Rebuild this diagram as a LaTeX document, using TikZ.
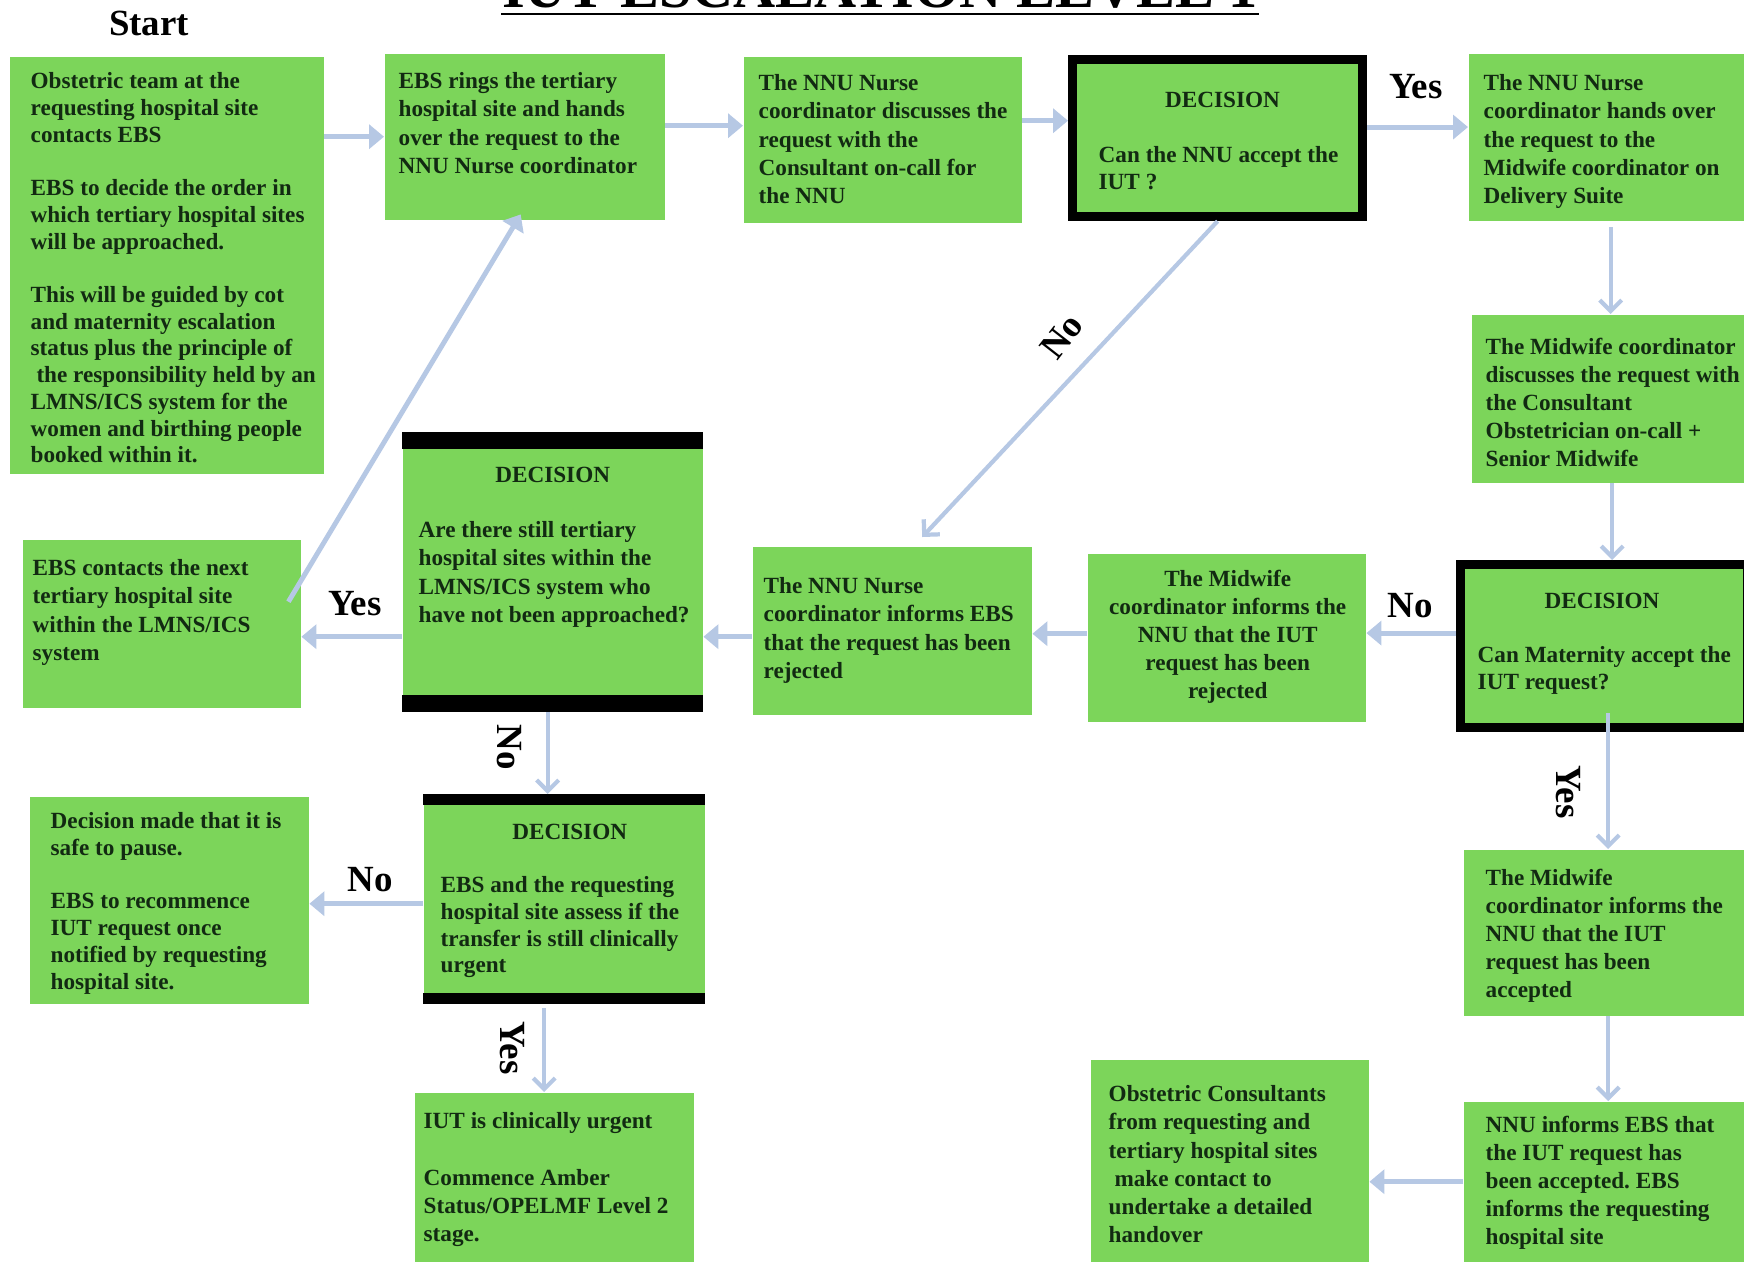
\documentclass[tikz,border=0pt]{standalone}
\usepackage{fontspec}
\setmainfont{Liberation Serif}
\usetikzlibrary{arrows.meta}
\definecolor{boxgreen}{RGB}{124,213,90}
\definecolor{arrowblue}{RGB}{182,200,228}
\definecolor{textdark}{RGB}{18,42,18}
\newcommand{\boxfont}{\fontsize{6.6}{8}\selectfont\bfseries}
\newcommand{\tightfont}{\fontsize{6.6}{7.6}\selectfont\bfseries}
\frenchspacing
\tikzset{
  stage/.style={fill=boxgreen, anchor=north west, inner sep=0},
  frame/.style={stage, draw=black, line width=2.6pt},
  txt/.style={anchor=north west, inner sep=0, align=left, text=textdark, font=\boxfont},
  head/.style={anchor=base, inner sep=0, text=textdark, font=\boxfont},
  lbl/.style={inner sep=0, font=\fontsize{10.5}{12}\selectfont\bfseries},
  flow/.style={draw=arrowblue, line width=1.4pt, -{Triangle[width=0.24cm,length=0.15cm]}},
  drop/.style={draw=arrowblue, line width=1.2pt, -{Straight Barb[width=0.22cm,length=0.11cm]}},
}
\begin{document}
\begin{tikzpicture}
  \useasboundingbox (0,0) rectangle (17.44,-12.61);
  % title
  \node[inner sep=0, anchor=base, font=\fontsize{16.6}{20}\selectfont\bfseries] (title) at (8.80,-0.07) {IUT ESCALATION LEVEL 1};
  \draw[line width=0.6pt] ([yshift=-0.07cm]title.base west) -- ([yshift=-0.07cm]title.base east);
  % boxes
  \node[stage, minimum width=3.14cm, minimum height=4.17cm] (start) at (0.09,-0.56) {};
  \node[stage, minimum width=2.80cm, minimum height=1.66cm] (ebs) at (3.84,-0.53) {};
  \node[stage, minimum width=2.78cm, minimum height=1.66cm] (nnu) at (7.43,-0.56) {};
  \node[frame, minimum width=2.90cm, minimum height=1.57cm] (dec1) at (10.68,-0.55) {};
  \node[stage, minimum width=2.84cm, minimum height=1.67cm] (mw) at (14.68,-0.53) {};
  \node[stage, minimum width=2.81cm, minimum height=1.68cm] (mwd) at (14.71,-3.14) {};
  \node[frame, minimum width=2.87cm, minimum height=1.63cm] (dec2) at (14.56,-5.60) {};
  \node[stage, minimum width=2.78cm, minimum height=1.68cm] (mwr) at (10.87,-5.53) {};
  \node[stage, minimum width=2.79cm, minimum height=1.68cm] (nnur) at (7.52,-5.46) {};
  \node[stage, minimum width=3.00cm, minimum height=2.79cm] (dec3) at (4.02,-4.32) {};
  \node[stage, minimum width=2.78cm, minimum height=1.68cm] (next) at (0.22,-5.39) {};
  \node[stage, minimum width=2.81cm, minimum height=2.09cm] (dec4) at (4.23,-7.94) {};
  \node[stage, minimum width=2.79cm, minimum height=2.07cm] (pause) at (0.29,-7.96) {};
  \node[stage, minimum width=2.79cm, minimum height=1.78cm] (urgent) at (4.14,-10.92) {};
  \node[stage, minimum width=2.89cm, minimum height=1.66cm] (mwa) at (14.63,-8.49) {};
  \node[stage, minimum width=2.89cm, minimum height=1.68cm] (ebsok) at (14.63,-11.01) {};
  \node[stage, minimum width=2.78cm, minimum height=2.10cm] (handover) at (10.90,-10.59) {};
  % black bars
  \fill (dec3.north west) rectangle ([yshift=-0.17cm]dec3.north east);
  \fill (dec3.south west) rectangle ([yshift=0.17cm]dec3.south east);
  \fill (dec4.north west) rectangle ([yshift=-0.11cm]dec4.north east);
  \fill (dec4.south west) rectangle ([yshift=0.11cm]dec4.south east);
  % texts
  \node[txt, font=\tightfont] (startT) at ([shift={(0.21,-0.16)}]start.north west) {Obstetric team at the\\ requesting hospital site\\ contacts EBS\\[7.6pt] EBS to decide the order in\\ which tertiary hospital sites\\ will be approached.\\[7.6pt] This will be guided by cot\\ and maternity escalation\\ status plus the principle of\\ \ the responsibility held by an\\ LMNS/ICS system for the\\ women and birthing people\\ booked within it.};
  \node[txt] (ebsT) at ([shift={(0.14,-0.19)}]ebs.north west) {EBS rings the tertiary\\ hospital site and hands\\ over the request to the\\ NNU Nurse coordinator};
  \node[txt] (nnuT) at ([shift={(0.15,-0.18)}]nnu.north west) {The NNU Nurse\\ coordinator discusses the\\ request with the\\ Consultant on-call for\\ the NNU};
  \node[head] (dec1H) at ([shift={(0.05,-0.525)}]dec1.north) {DECISION};
  \node[txt, font=\tightfont] (dec1T) at ([shift={(0.30,-0.91)}]dec1.north west) {Can the NNU accept the\\ IUT ?};
  \node[txt] (mwT) at ([shift={(0.15,-0.21)}]mw.north west) {The NNU Nurse\\ coordinator hands over\\ the request to the\\ Midwife coordinator on\\ Delivery Suite};
  \node[txt] (mwdT) at ([shift={(0.14,-0.23)}]mwd.north west) {The Midwife coordinator\\ discusses the request with\\ the Consultant\\ Obstetrician on-call +\\ Senior Midwife};
  \node[head] (dec2H) at ([shift={(-0.02,-0.485)}]dec2.north) {DECISION};
  \node[txt, font=\tightfont] (dec2T) at ([shift={(0.21,-0.86)}]dec2.north west) {Can Maternity accept the\\ IUT request?};
  \node[txt, anchor=north, align=center] (mwrT) at ([shift={(0.01,-0.16)}]mwr.north) {The Midwife\\ coordinator informs the\\ NNU that the IUT\\ request has been\\ rejected};
  \node[txt] (nnurT) at ([shift={(0.11,-0.31)}]nnur.north west) {The NNU Nurse\\ coordinator informs EBS\\ that the request has been\\ rejected};
  \node[head] (dec3H) at ([yshift=-0.505cm]dec3.north) {DECISION};
  \node[txt] (dec3T) at ([shift={(0.16,-0.89)}]dec3.north west) {Are there still tertiary\\ hospital sites within the\\ LMNS/ICS system who\\ have not been approached?};
  \node[txt] (nextT) at ([shift={(0.10,-0.20)}]next.north west) {EBS contacts the next\\ tertiary hospital site\\ within the LMNS/ICS\\ system};
  \node[head] (dec4H) at ([shift={(0.055,-0.455)}]dec4.north) {DECISION};
  \node[txt, font=\tightfont] (dec4T) at ([shift={(0.17,-0.82)}]dec4.north west) {EBS and the requesting\\ hospital site assess if the\\ transfer is still clinically\\ urgent};
  \node[txt, font=\tightfont] (pauseT) at ([shift={(0.21,-0.16)}]pause.north west) {Decision made that it is\\ safe to pause.\\[7.6pt] EBS to recommence\\ IUT request once\\ notified by requesting\\ hospital site.};
  \node[txt] (urgentT) at ([shift={(0.09,-0.20)}]urgent.north west) {IUT is clinically urgent\\[8pt] Commence Amber\\ Status/OPELMF Level 2\\ stage.};
  \node[txt] (mwaT) at ([shift={(0.22,-0.19)}]mwa.north west) {The Midwife\\ coordinator informs the\\ NNU that the IUT\\ request has been\\ accepted};
  \node[txt] (ebsokT) at ([shift={(0.22,-0.14)}]ebsok.north west) {NNU informs EBS that\\ the IUT request has\\ been accepted. EBS\\ informs the requesting\\ hospital site};
  \node[txt] (handoverT) at ([shift={(0.18,-0.26)}]handover.north west) {Obstetric Consultants\\ from requesting and\\ tertiary hospital sites\\ \ make contact to\\ undertake a detailed\\ handover};
  % arrows
  \draw[flow] (start.east |- ebs.west) -- (ebs.west);
  \draw[flow] ([yshift=0.11cm]ebs.east) -- ([yshift=0.11cm]ebs.east -| nnu.west);
  \draw[flow] ([yshift=0.19cm]nnu.east) -- ([yshift=0.19cm]nnu.east -| dec1.west);
  \draw[flow] ([yshift=0.11cm]dec1.east) -- ([yshift=0.11cm]dec1.east -| mw.west);
  \draw[drop] (dec1.south) -- ([shift={(0.30,0.09)}]nnur.north);
  \draw[drop, shorten <=0.06cm] (mw.south) -- (mw.south |- mwd.north);
  \draw[drop] (mwd.south) -- (mwd.south |- dec2.north);
  \draw[flow] ([yshift=0.13cm]dec2.west) -- ([yshift=0.13cm]dec2.west -| mwr.east);
  \draw[flow] ([yshift=0.04cm]mwr.west) -- ([yshift=0.04cm]mwr.west -| nnur.east);
  \draw[flow] ([yshift=-0.06cm]nnur.west) -- ([yshift=-0.06cm]nnur.west -| dec3.east);
  \draw[flow] ([yshift=-0.13cm]next.east -| dec3.west) -- ([yshift=-0.13cm]next.east);
  \draw[flow] ([shift={(-0.13,0.22)}]next.east) -- ([shift={(-0.04,0.06)}]ebs.south);
  \draw[drop] ([xshift=-0.05cm]dec3.south) -- ([xshift=-0.05cm]dec3.south |- dec4.north);
  \draw[flow] ([yshift=-0.045cm]dec4.west) -- ([yshift=-0.045cm]dec4.west -| pause.east);
  \draw[drop, shorten <=0.04cm] ([xshift=-0.1cm]urgent.north |- dec4.south) -- ([xshift=-0.1cm]urgent.north);
  \draw[drop] ([yshift=0.19cm]mwa.north |- dec2.south) -- (mwa.north);
  \draw[drop] (mwa.south) -- (mwa.south |- ebsok.north);
  \draw[flow] ([yshift=0.04cm]ebsok.west) -- ([yshift=0.04cm]ebsok.west -| handover.east);
  % labels
  \node[lbl] (startL) at (1.49,-0.23) {Start};
  \node[lbl] (yes1) at (14.16,-0.87) {Yes};
  \node[lbl, rotate=52] (no1) at (10.62,-3.36) {No};
  \node[lbl] (yes2) at (3.55,-6.04) {Yes};
  \node[lbl, rotate=-90] (no2) at (5.09,-7.47) {No};
  \node[lbl] (no3) at (14.10,-6.06) {No};
  \node[lbl, rotate=-90] (yes3) at (15.68,-7.92) {Yes};
  \node[lbl] (no4) at (3.70,-8.80) {No};
  \node[lbl, rotate=-90] (yes4) at (5.12,-10.48) {Yes};
\end{tikzpicture}
\end{document}
